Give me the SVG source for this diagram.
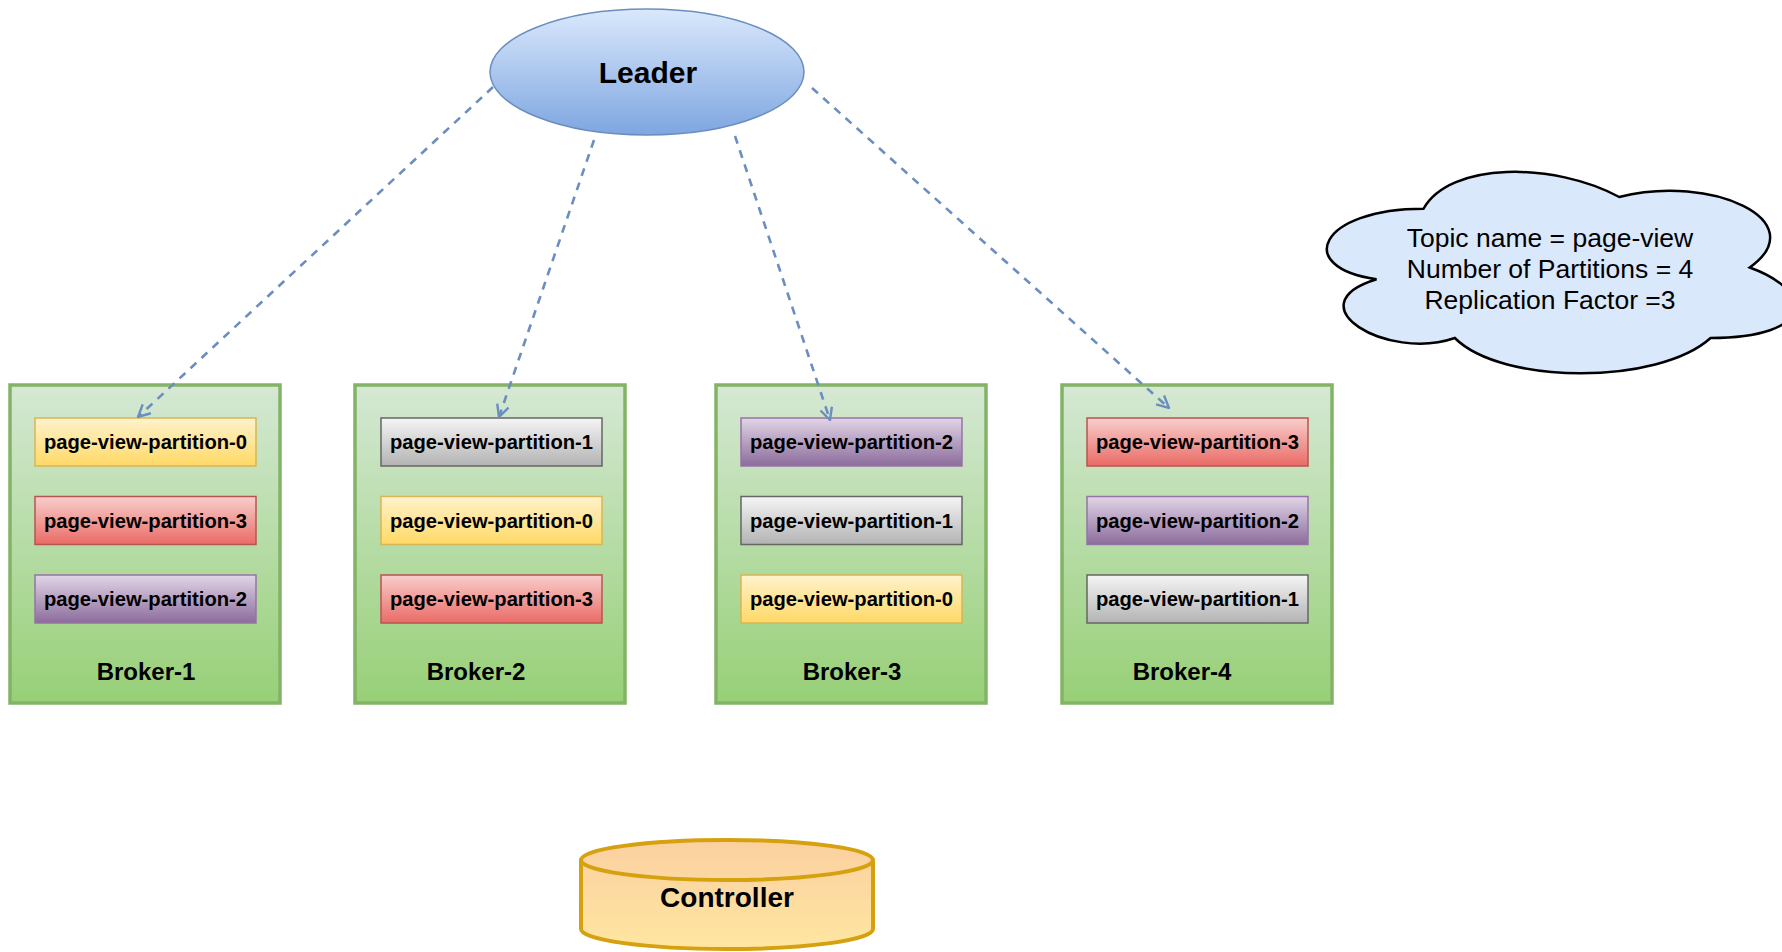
<svg xmlns="http://www.w3.org/2000/svg" width="1782" height="952" viewBox="0 0 1782 952">
<style>
text{font-family:"Liberation Sans",Arial,Helvetica,sans-serif;fill:#000;text-anchor:middle}
.broker{fill:url(#gGreen);stroke:#82b366;stroke-width:3.5}
.p0{fill:url(#gYellow);stroke:#d6b656;stroke-width:1.5}
.p1{fill:url(#gGrey);stroke:#666666;stroke-width:1.5}
.p2{fill:url(#gPurple);stroke:#9673a6;stroke-width:1.5}
.p3{fill:url(#gRed);stroke:#b85450;stroke-width:1.5}
.pt{font-size:20.2px;font-weight:bold}
.bt{font-size:24px;font-weight:bold}
.ct{font-size:26.5px}
.conn{fill:none;stroke:#6c8ebf;stroke-width:2.6;stroke-dasharray:8 7;marker-end:url(#arr)}
</style>
<defs>
<linearGradient id="gGreen" x1="0" y1="0" x2="0" y2="1"><stop offset="0" stop-color="#d5e8d4"/><stop offset="1" stop-color="#97d077"/></linearGradient>
<linearGradient id="gYellow" x1="0" y1="0" x2="0" y2="1"><stop offset="0" stop-color="#fff2cc"/><stop offset="1" stop-color="#ffd966"/></linearGradient>
<linearGradient id="gGrey" x1="0" y1="0" x2="0" y2="1"><stop offset="0" stop-color="#f5f5f5"/><stop offset="1" stop-color="#b3b3b3"/></linearGradient>
<linearGradient id="gPurple" x1="0" y1="0" x2="0" y2="1"><stop offset="0" stop-color="#e1d5e7"/><stop offset="1" stop-color="#8c6c9c"/></linearGradient>
<linearGradient id="gRed" x1="0" y1="0" x2="0" y2="1"><stop offset="0" stop-color="#f8cecc"/><stop offset="1" stop-color="#ea6b66"/></linearGradient>
<linearGradient id="gBlue" x1="0" y1="0" x2="0" y2="1"><stop offset="0" stop-color="#dae8fc"/><stop offset="1" stop-color="#7ea6e0"/></linearGradient>
<linearGradient id="gOrange" x1="0" y1="0" x2="0" y2="1"><stop offset="0" stop-color="#fbd0a0"/><stop offset="1" stop-color="#ffe6a0"/></linearGradient>
<marker id="arr" viewBox="0 0 14 14" refX="13" refY="7" markerWidth="14" markerHeight="14" markerUnits="userSpaceOnUse" orient="auto">
<path d="M1,1 L13,7 L1,13" fill="none" stroke="#6c8ebf" stroke-width="2.4"/>
</marker>
</defs>

<g id="leader">
<ellipse cx="647" cy="72" rx="157" ry="63" fill="url(#gBlue)" stroke="#6c8ebf" stroke-width="1.5"/>
<text x="648" y="83" style="font-size:30px;font-weight:bold">Leader</text>
</g>

<g id="topic-info">
<path d="M1423.5,208.75 C1319.1,208.75 1293,267.5 1376.52,279.25 C1293,305.1 1386.96,361.5 1454.82,338 C1501.8,385 1658.4,385 1710.6,338 C1815,338 1815,291 1749.75,267.5 C1815,220.5 1710.6,173.5 1619.25,197 C1554,161.75 1449.6,161.75 1423.5,208.75 Z" fill="#dae8fc" stroke="#000" stroke-width="2.5"/>
<text class="ct" x="1550" y="247">Topic name = page-view</text>
<text class="ct" x="1550" y="278">Number of Partitions = 4</text>
<text class="ct" x="1550" y="309">Replication Factor =3</text>
</g>

<g id="broker-1">
<rect class="broker" x="10" y="385" width="270" height="318"/>
<rect class="p0" x="35" y="418" width="221" height="48"/>
<text class="pt" x="145.5" y="449">page-view-partition-0</text>
<rect class="p3" x="35" y="496.5" width="221" height="48"/>
<text class="pt" x="145.5" y="527.5">page-view-partition-3</text>
<rect class="p2" x="35" y="575" width="221" height="48"/>
<text class="pt" x="145.5" y="606">page-view-partition-2</text>
<text class="bt" x="146" y="680">Broker-1</text>
</g>

<g id="broker-2">
<rect class="broker" x="355" y="385" width="270" height="318"/>
<rect class="p1" x="381" y="418" width="221" height="48"/>
<text class="pt" x="491.5" y="449">page-view-partition-1</text>
<rect class="p0" x="381" y="496.5" width="221" height="48"/>
<text class="pt" x="491.5" y="527.5">page-view-partition-0</text>
<rect class="p3" x="381" y="575" width="221" height="48"/>
<text class="pt" x="491.5" y="606">page-view-partition-3</text>
<text class="bt" x="476" y="680">Broker-2</text>
</g>

<g id="broker-3">
<rect class="broker" x="716" y="385" width="270" height="318"/>
<rect class="p2" x="741" y="418" width="221" height="48"/>
<text class="pt" x="851.5" y="449">page-view-partition-2</text>
<rect class="p1" x="741" y="496.5" width="221" height="48"/>
<text class="pt" x="851.5" y="527.5">page-view-partition-1</text>
<rect class="p0" x="741" y="575" width="221" height="48"/>
<text class="pt" x="851.5" y="606">page-view-partition-0</text>
<text class="bt" x="852" y="680">Broker-3</text>
</g>

<g id="broker-4">
<rect class="broker" x="1062" y="385" width="270" height="318"/>
<rect class="p3" x="1087" y="418" width="221" height="48"/>
<text class="pt" x="1197.5" y="449">page-view-partition-3</text>
<rect class="p2" x="1087" y="496.5" width="221" height="48"/>
<text class="pt" x="1197.5" y="527.5">page-view-partition-2</text>
<rect class="p1" x="1087" y="575" width="221" height="48"/>
<text class="pt" x="1197.5" y="606">page-view-partition-1</text>
<text class="bt" x="1182" y="680">Broker-4</text>
</g>

<g id="controller">
<path d="M581,860 A146,20 0 0 1 873,860 V929 A146,20 0 0 1 581,929 Z" fill="url(#gOrange)" stroke="#d6a10f" stroke-width="4"/>
<path d="M581,860 A146,20 0 0 0 873,860" fill="none" stroke="#d6a10f" stroke-width="4"/>
<text x="727" y="907" style="font-size:28px;font-weight:bold">Controller</text>
</g>

<g id="connectors">
<line class="conn" x1="493" y1="87" x2="138" y2="417"/>
<line class="conn" x1="594" y1="140" x2="499" y2="417"/>
<line class="conn" x1="735" y1="136" x2="830" y2="420"/>
<line class="conn" x1="812" y1="88" x2="1169" y2="408"/>
</g>
</svg>
